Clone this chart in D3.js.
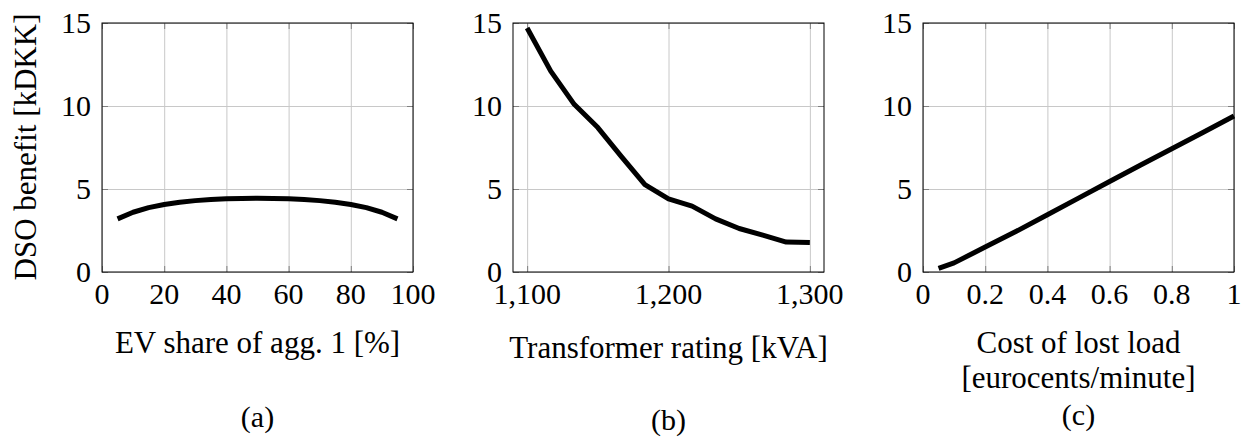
<!DOCTYPE html>
<html>
<head>
<meta charset="utf-8">
<script src="https://cdn.jsdelivr.net/npm/d3@7"></script>
</head>
<body style="margin:0">
<div id="chart"></div>
<script>
// panel (a): EV share of aggregator 1
let evShare = [5, 10, 15, 20, 25, 30, 35, 40, 45, 50, 55, 60, 65, 70, 75, 80, 85, 90, 95];
let evBenefit = [3.2, 3.6, 3.88, 4.07, 4.2, 4.3, 4.37, 4.41, 4.43, 4.44, 4.43, 4.41, 4.37, 4.3, 4.2, 4.07, 3.88, 3.6, 3.2];
let evTicks = [0, 20, 40, 60, 80, 100];

// panel (b): transformer rating
let rating = [1100, 1116.7, 1133.3, 1150, 1166.7, 1183.3, 1200, 1216.7, 1233.3, 1250, 1266.7, 1283.3, 1300];
let ratingBenefit = [14.7, 12.1, 10.1, 8.7, 6.95, 5.27, 4.4, 3.97, 3.2, 2.62, 2.22, 1.8, 1.77];
let ratingTicks = [1100, 1200, 1300];

// panel (c): cost of lost load
let lostCost = [0.05, 0.1, 0.2, 0.3, 0.4, 0.5, 0.6, 0.7, 0.8, 0.9, 1.0];
let lostBenefit = [0.22, 0.55, 1.5, 2.45, 3.45, 4.45, 5.45, 6.45, 7.42, 8.4, 9.4];
let lostTicks = [0, 0.2, 0.4, 0.6, 0.8, 1];

let yTicks = [0, 5, 10, 15];

let svg = d3.select("#chart").append("svg")
    .attr("width", 1247)
    .attr("height", 439)
    .style("font-family", "'Times New Roman'");

let plotTop = 23;
let plotHeight = 249;
let plotWidth = 311;

function addText(sel, size) {
    return sel.append("text")
        .attr("font-size", size)
        .style("font-family", "'Times New Roman'");
}

function addPanel(opts) {
    let g = svg.append("g")
        .attr("transform", "translate(" + opts.left + "," + plotTop + ")");

    let x = d3.scaleLinear().domain(opts.xDomain).range([0, plotWidth]);
    let y = d3.scaleLinear().domain([0, 15]).range([plotHeight, 0]);

    // grid lines
    g.append("g")
        .call(d3.axisBottom(x).tickValues(opts.xTicks).tickSize(-plotHeight).tickFormat(""))
        .attr("transform", "translate(0," + plotHeight + ")")
        .call(a => a.select(".domain").remove())
        .call(a => a.selectAll("line").attr("stroke", "#c8c8c8").attr("stroke-width", 1));
    g.append("g")
        .call(d3.axisLeft(y).tickValues(yTicks).tickSize(-plotWidth).tickFormat(""))
        .call(a => a.select(".domain").remove())
        .call(a => a.selectAll("line").attr("stroke", "#c8c8c8").attr("stroke-width", 1));

    // inner tick marks (top, bottom, left, right)
    let tickLen = 6;
    g.append("g").attr("transform", "translate(0," + plotHeight + ")")
        .call(d3.axisBottom(x).tickValues(opts.xTicks).tickSize(-tickLen).tickFormat(""))
        .call(a => a.select(".domain").remove())
        .call(a => a.selectAll("line").attr("stroke", "#808080"));
    g.append("g")
        .call(d3.axisTop(x).tickValues(opts.xTicks).tickSize(-tickLen).tickFormat(""))
        .call(a => a.select(".domain").remove())
        .call(a => a.selectAll("line").attr("stroke", "#808080"));
    g.append("g")
        .call(d3.axisLeft(y).tickValues(yTicks).tickSize(-tickLen).tickFormat(""))
        .call(a => a.select(".domain").remove())
        .call(a => a.selectAll("line").attr("stroke", "#808080"));
    g.append("g").attr("transform", "translate(" + plotWidth + ",0)")
        .call(d3.axisRight(y).tickValues(yTicks).tickSize(-tickLen).tickFormat(""))
        .call(a => a.select(".domain").remove())
        .call(a => a.selectAll("line").attr("stroke", "#808080"));

    // tick labels
    opts.xTicks.forEach(function (d) {
        addText(g, 30)
            .attr("x", x(d))
            .attr("y", plotHeight + 32)
            .attr("text-anchor", "middle")
            .text(opts.xFormat(d));
    });
    yTicks.forEach(function (d) {
        addText(g, 30)
            .attr("x", -11)
            .attr("y", y(d) + 10)
            .attr("text-anchor", "end")
            .text(d);
    });

    // the curve
    let line = d3.line()
        .x(d => x(d[0]))
        .y(d => y(d[1]));
    g.append("path")
        .datum(d3.zip(opts.xs, opts.ys))
        .attr("fill", "none")
        .attr("stroke", "#000")
        .attr("stroke-width", 5)
        .attr("stroke-linejoin", "round")
        .attr("d", line);

    // frame
    g.append("rect")
        .attr("width", plotWidth)
        .attr("height", plotHeight)
        .attr("fill", "none")
        .attr("stroke", "#000")
        .attr("stroke-width", 1);

    // axis title + sub caption
    opts.title.forEach(function (t, i) {
        addText(g, 31)
            .attr("x", plotWidth / 2)
            .attr("y", opts.titleY + i * 35)
            .attr("text-anchor", "middle")
            .text(t);
    });
    addText(g, 30)
        .attr("x", plotWidth / 2)
        .attr("y", opts.capY)
        .attr("text-anchor", "middle")
        .text(opts.caption);
}

addPanel({
    left: 102, xDomain: [0, 100], xTicks: evTicks, xFormat: d => d,
    xs: evShare, ys: evBenefit,
    title: ["EV share of agg. 1 [%]"], titleY: 330, capY: 404, caption: "(a)"
});
addPanel({
    left: 513, xDomain: [1090, 1310], xTicks: ratingTicks, xFormat: d3.format(","),
    xs: rating, ys: ratingBenefit,
    title: ["Transformer rating [kVA]"], titleY: 335, capY: 407, caption: "(b)"
});
addPanel({
    left: 923, xDomain: [0, 1], xTicks: lostTicks, xFormat: d => d,
    xs: lostCost, ys: lostBenefit,
    title: ["Cost of lost load", "[eurocents/minute]"], titleY: 330, capY: 402, caption: "(c)"
});

// shared y axis label
addText(svg, 31)
    .attr("transform", "translate(36,147) rotate(-90)")
    .attr("text-anchor", "middle")
    .text("DSO benefit [kDKK]");
</script>
</body>
</html>
